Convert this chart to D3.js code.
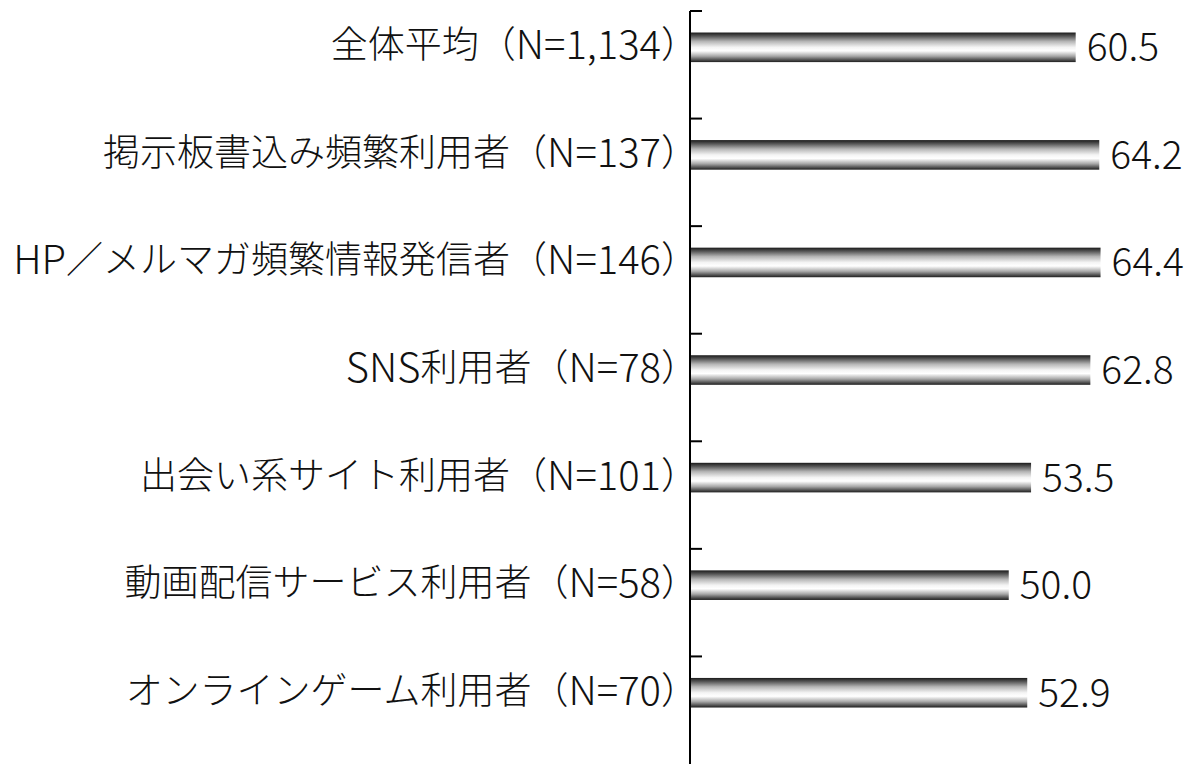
<!DOCTYPE html>
<meta charset='utf-8'>
<style>
  body { margin: 0; background: #fff; }
  text { font-family: "Noto Sans CJK JP", "Noto Sans", sans-serif; font-weight: 300; fill: #111; }
</style>
<body>
<div id="viz"></div>
<script src="https://d3js.org/d3.v7.min.js"></script>
<script>

// categories, top to bottom
const categories = [
  '全体平均（N=1,134）',
  '掲示板書込み頻繁利用者（N=137）',
  'HP／メルマガ頻繁情報発信者（N=146）',
  'SNS利用者（N=78）',
  '出会い系サイト利用者（N=101）',
  '動画配信サービス利用者（N=58）',
  'オンラインゲーム利用者（N=70）'
];
const values = [60.5, 64.2, 64.4, 62.8, 53.5, 50.0, 52.9];

const width = 1197, height = 764;

const svg = d3.select('#viz').append('svg')
  .attr('width', width)
  .attr('height', height);

// bars have a vertical metallic gradient: dark edges, bright middle
const grad = svg.append('defs').append('linearGradient')
  .attr('id', 'barGrad')
  .attr('x1', 0).attr('y1', 0).attr('x2', 0).attr('y2', 1);
[[0, '#1a1a1a'], [0.12, '#555'], [0.3, '#b5b5b5'], [0.5, '#f4f4f4'], [0.62, '#ffffff'],
 [0.8, '#a8a8a8'], [0.92, '#555'], [1, '#1e1e1e']].forEach(s => {
  grad.append('stop').attr('offset', s[0]).attr('stop-color', s[1]);
});

const x = d3.scaleLinear().domain([0, 80]).range([690, 1200]);
const y = d3.scaleBand().domain(categories).range([11, 764]);

const bw = y.bandwidth();
const barTop = d => y(d) + bw * 0.2;
const barH = bw * 0.275;

const data = categories.map((c, i) => ({cat: c, val: values[i]}));

svg.selectAll('rect.bar')
  .data(data)
  .join('rect')
  .attr('class', 'bar')
  .attr('x', x(0))
  .attr('y', d => barTop(d.cat))
  .attr('width', d => x(d.val) - x(0))
  .attr('height', barH)
  .attr('fill', 'url(#barGrad)');

// axis line with inward ticks on band boundaries
const axisG = svg.append('g');
axisG.append('line')
  .attr('x1', x(0)).attr('x2', x(0))
  .attr('y1', y.range()[0]).attr('y2', y.range()[1])
  .attr('stroke', '#000').attr('stroke-width', 2);
axisG.selectAll('line.tick')
  .data(categories)
  .join('line')
  .attr('class', 'tick')
  .attr('x1', x(0)).attr('x2', x(0) + 12)
  .attr('y1', d => y(d)).attr('y2', d => y(d))
  .attr('stroke', '#000').attr('stroke-width', 2);

// split a label into runs of latin / japanese so latin can be set a bit larger
function runs(s) {
  return s.match(/[\x20-\x7e]+|[^\x20-\x7e]+/g).map(t => ({t, latin: /^[\x20-\x7e]/.test(t)}));
}

// category labels
svg.selectAll('text.cat')
  .data(data)
  .join('text')
  .attr('class', 'cat')
  .attr('x', 698)
  .attr('y', d => barTop(d.cat) + barH / 2 - 5)
  .attr('text-anchor', 'end')
  .attr('dominant-baseline', 'central')
  .each(function(d) {
    d3.select(this).selectAll('tspan')
      .data(runs(d.cat))
      .join('tspan')
      .style('font-size', r => r.latin ? '40px' : '37px')
      .text(r => r.t);
  });

// value labels
svg.selectAll('text.val')
  .data(data)
  .join('text')
  .attr('class', 'val')
  .attr('x', d => x(d.val) + 11)
  .attr('y', d => barTop(d.cat) + barH / 2 - 3)
  .attr('dominant-baseline', 'central')
  .style('font-size', '39px')
  .text(d => d3.format('.1f')(d.val));

</script>
</body>
